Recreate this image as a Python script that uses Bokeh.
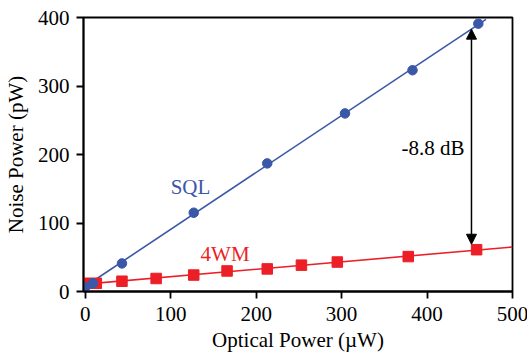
import numpy as np
from bokeh.plotting import figure
from bokeh.models import Arrow, NormalHead, Range1d, FixedTicker, Label
from bokeh.embed import file_html
from bokeh.resources import INLINE

# SQL data (blue circles)
sql_x = [0, 9, 43, 127, 213, 304, 383, 460]
sql_y = [6, 12, 41, 115, 187, 260, 323, 391]
sql_fit_range = [5, 469]

# 4WM data (red squares)
fwm_x = [1, 13, 43, 83, 127, 166, 213, 253, 295, 378, 458]
fwm_y = [12, 12, 15, 19, 24, 30, 33, 38.5, 43, 51, 61]
fwm_fit_range = [0, 500]

x_ticks = [0, 100, 200, 300, 400, 500]
y_ticks = [0, 100, 200, 300, 400]

arrow_x = 452
arrow_y = [69, 383]
label_db = "-8.8 dB"

BLUE = "#3b58a8"
RED = "#ec1f27"
FONT = "Liberation Serif"

p = figure(width=527, height=352, output_backend="svg", toolbar_location=None,
           x_range=Range1d(-2, 500), y_range=Range1d(0, 400),
           min_border_left=82, min_border_right=16, min_border_top=17, min_border_bottom=61,
           frame_width=429, frame_height=274)
p.background_fill_color = "white"
p.border_fill_color = "white"
p.grid.visible = False
p.outline_line_color = "black"
p.outline_line_width = 1.8
p.outline_line_alpha = 1

for ax in (p.xaxis, p.yaxis):
    ax.axis_line_width = 1.8
    ax.major_tick_line_width = 1.8
    ax.major_tick_out = 7
    ax.major_tick_in = 0
    ax.minor_tick_line_color = None
    ax.major_label_text_font = FONT
    ax.major_label_text_font_size = "21px"
    ax.axis_label_text_font = FONT
    ax.axis_label_text_font_size = "21px"
    ax.axis_label_text_font_style = "normal"
    ax.major_label_text_color = "black"
    ax.axis_label_text_color = "black"

p.xaxis.ticker = FixedTicker(ticks=x_ticks)
p.yaxis.ticker = FixedTicker(ticks=y_ticks)
p.xaxis.axis_label = "Optical Power (\u00b5W)"
p.yaxis.axis_label = "Noise Power (pW)"
p.xaxis.major_label_standoff = 8
p.yaxis.major_label_standoff = 7
p.xaxis.axis_label_standoff = 4
p.yaxis.axis_label_standoff = 7

# fits
sc = np.polyfit(sql_x[2:], sql_y[2:], 1)
fc = np.polyfit(fwm_x, fwm_y, 1)
sx = np.array(sql_fit_range, dtype=float)
fx = np.array(fwm_fit_range, dtype=float)
p.line(sx, np.polyval(sc, sx), line_color=BLUE, line_width=1.6)
p.line(fx, np.polyval(fc, fx), line_color=RED, line_width=1.6)

p.scatter(fwm_x, fwm_y, marker="square", size=10.5, fill_color=RED, line_color=RED)
p.scatter(sql_x, sql_y, marker="circle", size=9.5, fill_color=BLUE, line_color=BLUE)

p.add_layout(Arrow(x_start=arrow_x, y_start=arrow_y[0], x_end=arrow_x, y_end=arrow_y[1],
                   line_width=1.5, line_color="black",
                   start=NormalHead(size=10, fill_color="black", line_color="black"),
                   end=NormalHead(size=10, fill_color="black", line_color="black")))

p.add_layout(Label(x=370, y=210, text=label_db, text_font=FONT, text_font_size="21px",
                   text_color="black", text_baseline="middle", text_align="left"))
p.add_layout(Label(x=100, y=152, text="SQL", text_font=FONT, text_font_size="21px",
                   text_color=BLUE, text_baseline="middle", text_align="left"))
p.add_layout(Label(x=135, y=55, text="4WM", text_font=FONT, text_font_size="21px",
                   text_color=RED, text_baseline="middle", text_align="left"))

open("out.html", "w").write(file_html(p, INLINE))
